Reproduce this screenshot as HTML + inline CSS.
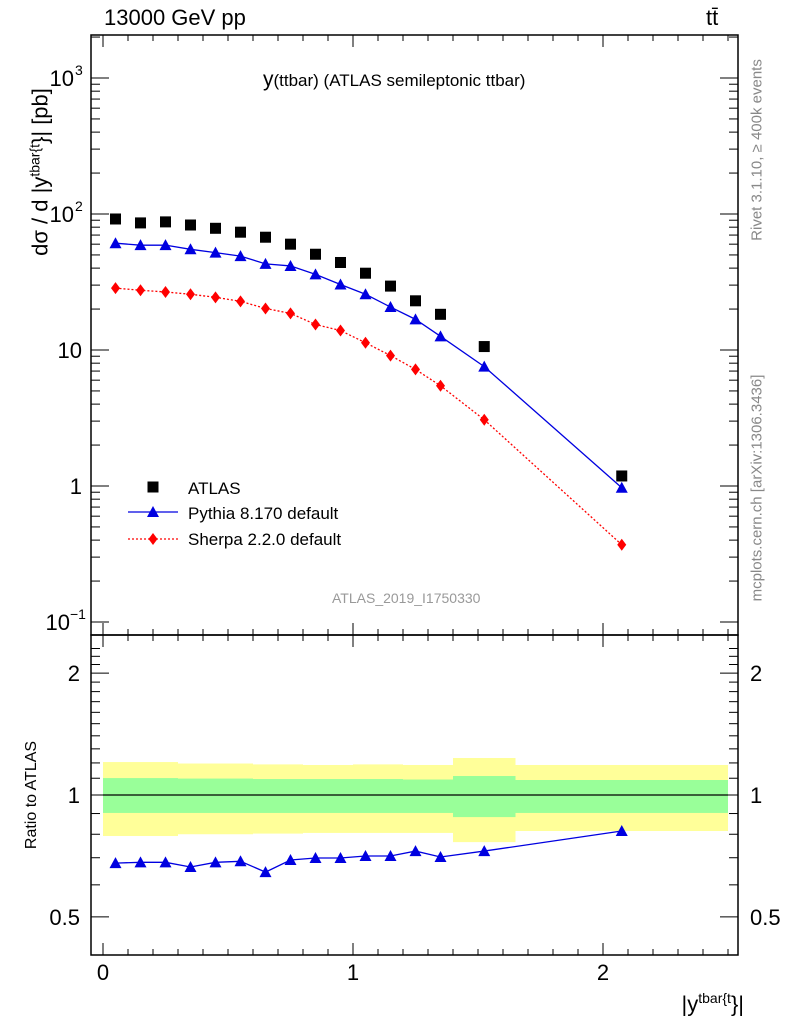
<!DOCTYPE html>
<html><head><meta charset="utf-8"><style>
body{margin:0;background:#fff;}
svg{display:block;font-family:"Liberation Sans",sans-serif;}
</style></head><body>
<svg id="c" width="786" height="1024"></svg>
<script>
const edges=[0,0.1,0.2,0.3,0.4,0.5,0.6,0.7,0.8,0.9,1.0,1.1,1.2,1.3,1.4,1.65,2.5];
const atlas=[91.9,86,87.5,83,78.5,73.5,67.5,60,50.6,44,36.7,29.5,23,18.3,10.6,1.185];
const pythia=[61,59,59,55,52,49,43,41.5,36,30.3,25.7,20.7,16.8,12.6,7.55,0.97];
const sherpa=[28.5,27.5,26.7,25.7,24.4,22.8,20.2,18.6,15.4,13.9,11.3,9.1,7.2,5.46,3.07,0.37];
const ratioP=[0.679,0.682,0.682,0.664,0.682,0.686,0.645,0.691,0.699,0.699,0.707,0.707,0.727,0.703,0.727,0.815];
const yelHi=[1.206,1.206,1.206,1.196,1.196,1.196,1.19,1.19,1.186,1.186,1.19,1.19,1.186,1.186,1.234,1.186];
const yelLo=[0.792,0.792,0.792,0.8,0.8,0.8,0.803,0.803,0.806,0.806,0.806,0.806,0.806,0.806,0.765,0.815];
const grnHi=[1.101,1.101,1.101,1.098,1.098,1.098,1.095,1.095,1.095,1.095,1.095,1.095,1.092,1.092,1.114,1.089];
const grnLo=[0.903,0.903,0.903,0.903,0.903,0.903,0.903,0.903,0.903,0.903,0.903,0.903,0.903,0.903,0.882,0.903];
const ratioErr=[0.008,0.008,0.008,0.008,0.008,0.008,0.008,0.008,0.008,0.008,0.008,0.008,0.012,0.012,0.008,0.02];
const NS="http://www.w3.org/2000/svg";
const svg=document.getElementById('c');
function el(t,a,p){const e=document.createElementNS(NS,t);for(const k in a)e.setAttribute(k,a[k]);(p||svg).appendChild(e);return e;}
const L=91,R=738,T=35,M=635,B=955;
const X=v=>103+250*v;
const Y=v=>486-136*Math.log10(v);
const RY=v=>795-405*Math.log10(v);
const mids=edges.slice(0,-1).map((e,i)=>(e+edges[i+1])/2);
for(let i=0;i<mids.length;i++){
 let r=el('rect',{x:X(edges[i]),y:RY(yelHi[i]),width:X(edges[i+1])-X(edges[i]),height:RY(yelLo[i])-RY(yelHi[i]),fill:'#ffff99'});
 
 let g=el('rect',{x:X(edges[i]),y:RY(grnHi[i]),width:X(edges[i+1])-X(edges[i]),height:RY(grnLo[i])-RY(grnHi[i]),fill:'#99ff99'});
 
}
let ol=el('line',{x1:X(0),x2:X(2.5),y1:RY(1),y2:RY(1),stroke:'#000','stroke-width':1.2});

for(const [y1,y2,n] of [[T,M,'main-frame'],[M,B,'ratio-frame']]){
 let f=el('rect',{x:L,y:y1,width:R-L,height:y2-y1,fill:'none',stroke:'#000','stroke-width':1.5});
 
}
for(const [y1,y2] of [[T,M],[M,B]]){
 for(let k=0;k<=25;k++){const v=k/10;const big=k%10==0;const len=big?12:6;const xx=X(v);
  el('line',{x1:xx,x2:xx,y1:y2,y2:y2-len,stroke:'#000'});el('line',{x1:xx,x2:xx,y1:y1,y2:y1+len,stroke:'#000'});}
}
for(let d=-1;d<=3;d++){for(let m=1;m<10;m++){const v=m*Math.pow(10,d);const y=Y(v);if(y<T||y>M)continue;
 const len=m==1?18:9;el('line',{x1:L,x2:L+len,y1:y,y2:y,stroke:'#000'});el('line',{x1:R,x2:R-len,y1:y,y2:y,stroke:'#000'});}}
[[1000,'10','3'],[100,'10','2'],[10,'10',''],[1,'1',''],[0.1,'10','−1']].forEach(([v,b,e])=>{
 let t=el('text',{x:e?(e.length>1?70:74):82,y:Y(v)+8,'font-size':22,'text-anchor':'end'});t.textContent=b;
 
 if(e){let s=el('text',{x:e.length>1?70:75,y:Y(v)-3,'font-size':14});s.textContent=e;}
});
for(let k=5;k<=23;k++){const v=k/10;const y=RY(v);if(y<M||y>B)continue;const big=(k==5||k==10||k==20);
 const len=big?18:9;el('line',{x1:L,x2:L+len,y1:y,y2:y,stroke:'#000'});el('line',{x1:R,x2:R-len,y1:y,y2:y,stroke:'#000'});}
[[2,'2'],[1,'1'],[0.5,'0.5']].forEach(([v,s])=>{
 let t=el('text',{x:80,y:RY(v)+8,'font-size':22,'text-anchor':'end'});t.textContent=s;
 
 let t2=el('text',{x:750,y:RY(v)+8,'font-size':22});t2.textContent=s;
});
[[0,'0'],[1,'1'],[2,'2']].forEach(([v,s])=>{let t=el('text',{x:X(v),y:980,'font-size':22,'text-anchor':'middle'});t.textContent=s;
 });
function path(vals,f,col,dash,name){let d=vals.map((v,i)=>(i?'L':'M')+X(mids[i])+','+f(v)).join('');
 let p=el('path',{d:d,fill:'none',stroke:col,'stroke-width':1.3});if(dash)p.setAttribute('stroke-dasharray',dash);
 }
path(pythia,Y,'#0000e0','','pythia-line');
path(sherpa,Y,'#ff0000','2,2','sherpa-line');
path(ratioP,RY,'#0000e0','','pythia-ratio-line');
function tri(x,y,name){let p=el('path',{d:`M${x-6},${y+5}L${x+6},${y+5}L${x},${y-6}Z`,fill:'#0000e0'});}
function dia(x,y,name){let p=el('path',{d:`M${x},${y-6}L${x+4.5},${y}L${x},${y+6}L${x-4.5},${y}Z`,fill:'#ff0000'});}
function sq(x,y,name){let p=el('rect',{x:x-5.5,y:y-5.5,width:11,height:11,fill:'#000'});}
mids.forEach((m,i)=>{sq(X(m),Y(atlas[i]),'atlas-point');tri(X(m),Y(pythia[i]),'pythia-point');dia(X(m),Y(sherpa[i]),'sherpa-point');
 let eb=el('line',{x1:X(m),x2:X(m),y1:RY(ratioP[i]+ratioErr[i]),y2:RY(ratioP[i]-ratioErr[i]),stroke:'#0000e0','stroke-width':1.3});
 
 tri(X(m),RY(ratioP[i]),'pythia-ratio-point');});
sq(153,487,'legend-atlas-marker');
let lt=el('text',{x:188,y:494,'font-size':17});lt.textContent='ATLAS';
el('line',{x1:128,x2:178,y1:512,y2:512,stroke:'#0000e0','stroke-width':1.3});tri(153,512,'legend-pythia-marker');
lt=el('text',{x:188,y:519,'font-size':17});lt.textContent='Pythia 8.170 default';
el('line',{x1:128,x2:178,y1:539,y2:539,stroke:'#ff0000','stroke-width':1.3,'stroke-dasharray':'2,2'});dia(153,539,'legend-sherpa-marker');
lt=el('text',{x:188,y:545,'font-size':17});lt.textContent='Sherpa 2.2.0 default';
</script>
<div style="position:absolute;left:0;top:0;width:786px;height:1024px;font-family:'Liberation Sans',sans-serif;pointer-events:none">
<div style="position:absolute;left:104px;top:5px;font-size:22px">13000 GeV pp</div>
<div style="position:absolute;left:706px;top:5px;font-size:22px">tt̄</div>
<div style="position:absolute;left:263px;top:68px;font-size:21px">y<span style="font-size:17px">(ttbar) (ATLAS semileptonic ttbar)</span></div>
<div style="position:absolute;left:332px;top:590px;font-size:14px;color:#999">ATLAS_2019_I1750330</div>
<div style="position:absolute;left:40px;top:172px;font-size:22px;white-space:nowrap;transform:translate(-50%,-50%) rotate(-90deg);transform-origin:center">dσ / d |y<sup style="font-size:14px">tbar{t</sup>}| [pb]</div>
<div style="position:absolute;left:32px;top:795px;font-size:16px;white-space:nowrap;transform:translate(-50%,-50%) rotate(-90deg)">Ratio to ATLAS</div>
<div style="position:absolute;right:42px;top:990px;font-size:22px;white-space:nowrap">|y<sup style="font-size:14px">tbar{t</sup>}|</div>
<div style="position:absolute;left:757px;top:150px;font-size:15px;color:#888;white-space:nowrap;transform:translate(-50%,-50%) rotate(-90deg)">Rivet 3.1.10, ≥ 400k events</div>
<div style="position:absolute;left:757px;top:488px;font-size:15px;color:#888;white-space:nowrap;transform:translate(-50%,-50%) rotate(-90deg)">mcplots.cern.ch [arXiv:1306.3436]</div>
</div>
</body></html>
